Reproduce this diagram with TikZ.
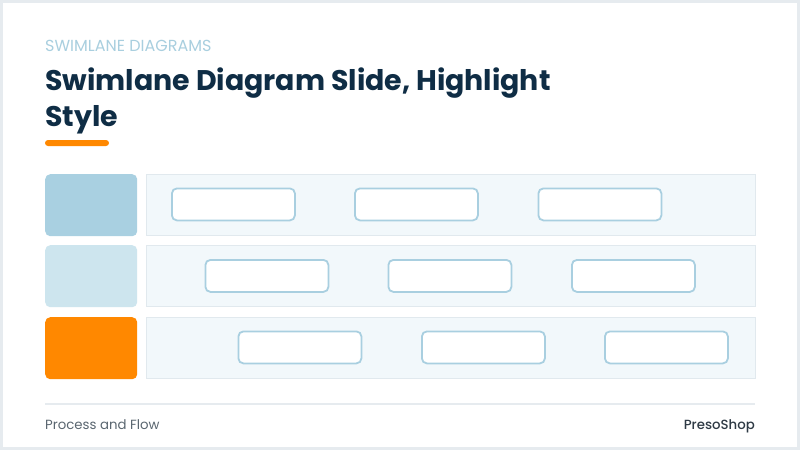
\documentclass[tikz,border=0pt]{standalone}
\usepackage{fontspec}
\setmainfont{Poppins}
\newfontfamily\popbold{Poppins Bold}
\newfontfamily\popmed{Poppins Medium}
\definecolor{frame}{HTML}{E6EBEF}
\definecolor{subtl}{HTML}{A9CFDF}
\definecolor{navy}{HTML}{0F2D45}
\definecolor{orng}{HTML}{FF8800}
\definecolor{hdrA}{HTML}{A9D0E1}
\definecolor{hdrB}{HTML}{CDE5EE}
\definecolor{lanefill}{HTML}{F2F8FB}
\definecolor{laneline}{HTML}{E1E9EE}
\definecolor{boxline}{HTML}{A9CFE0}
\definecolor{foot}{HTML}{5A6670}
\definecolor{footdark}{HTML}{2E3A45}
\tikzset{
  hdr/.style={rectangle, rounded corners=5pt, minimum width=92pt, minimum height=62pt, inner sep=0pt, anchor=north west},
  lane/.style={rectangle, draw=laneline, line width=1pt, fill=lanefill, minimum width=609pt, minimum height=61pt, inner sep=0pt, anchor=north west},
  task/.style={rectangle, draw=boxline, line width=1.8pt, fill=white, rounded corners=5pt, minimum width=123pt, minimum height=32pt, inner sep=0pt, anchor=north west}
}
\begin{document}
\begin{tikzpicture}[x=1pt,y=-1pt]
\useasboundingbox (0,0) rectangle (800,450);
\fill[frame] (0,0) rectangle (800,450);
\fill[white] (3,3) rectangle (797,447);
\node[anchor=base west, inner sep=0pt, text=subtl, font=\fontsize{16}{19}\selectfont] (sub) at (45,51.5) {SWIMLANE DIAGRAMS};
\node[anchor=base west, inner sep=0pt, text=navy, font=\popbold\fontsize{28.4}{36}\selectfont] (t1) at (45,90.5) {Swimlane Diagram Slide, Highlight};
\node[anchor=base west, inner sep=0pt, text=navy, font=\popbold\fontsize{28.4}{36}\selectfont] (t2) at (45,126.5) {Style};
\fill[orng, rounded corners=3pt] (45,140) rectangle (109,146);
% headers
\node[hdr, fill=hdrA] (h1) at (45,174) {};
\node[hdr, fill=hdrB] (h2) at (45,245) {};
\node[hdr, fill=orng] (h3) at (45,317) {};
% lanes
\node[lane] (l1) at (146,174) {};
\node[lane] (l2) at (146,245) {};
\node[lane] (l3) at (146,317) {};
% tasks
\node[task] (a1) at (171,187.5) {};
\node[task] (a2) at (354,187.5) {};
\node[task] (a3) at (537.5,187.5) {};
\node[task] (b1) at (204.5,259) {};
\node[task] (b2) at (387.5,259) {};
\node[task] (b3) at (571,259) {};
\node[task] (c1) at (237.5,330.5) {};
\node[task] (c2) at (421,330.5) {};
\node[task] (c3) at (604,330.5) {};
% footer
\draw[frame, line width=1.5pt] (45,404) -- (755,404);
\node[anchor=base west, inner sep=0pt, text=foot, font=\fontsize{13.3}{16}\selectfont] (f1) at (45,429) {Process and Flow};
\node[anchor=base east, inner sep=0pt, text=footdark, font=\popmed\fontsize{13.3}{16}\selectfont] (f2) at (755,429) {PresoShop};
\end{tikzpicture}
\end{document}
